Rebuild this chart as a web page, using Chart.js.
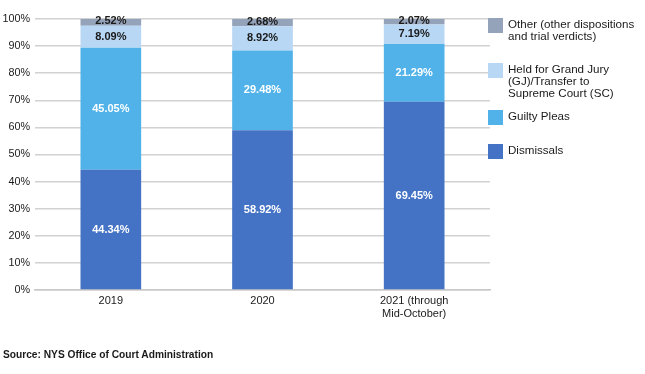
<!DOCTYPE html>
<html>
<head>
<meta charset="utf-8">
<script src="https://cdn.jsdelivr.net/npm/chart.js@4"></script>
<style>
  body { margin: 0; background: #fff; font-family: "Liberation Sans", Arial, sans-serif; }
  #wrap { position: relative; width: 645px; height: 374px; }
  #legend { position: absolute; left: 488px; top: 0; width: 160px; font-size: 11.6px; color: #1a1a1a; }
  .item { position: absolute; left: 0; display: flex; align-items: flex-start; white-space: nowrap; }
  .sw { width: 15px; height: 15px; margin-right: 5px; flex: none; }
  .item span { line-height: 12px; }
  #source { position: absolute; left: 3px; top: 349px; font-size: 10.2px; font-weight: bold; color: #1a1a1a; }
</style>
</head>
<body>
<div id="wrap">
  <canvas id="dispChart" width="645" height="374"></canvas>
  <div id="legend"></div>
  <div id="source">Source: NYS Office of Court Administration</div>
</div>
<script>
// data
const years = [["2019"], ["2020"], ["2021 (through", "Mid-October)"]]
const dismissals = [44.34, 58.92, 69.45]
const guiltyPleas = [45.05, 29.48, 21.29]
const heldForGJ = [8.09, 8.92, 7.19]
const other = [2.52, 2.68, 2.07]
const yTicks = [0, 10, 20, 30, 40, 50, 60, 70, 80, 90, 100]

const seriesNames = [
  "Dismissals",
  "Guilty Pleas",
  "Held for Grand Jury (GJ)/Transfer to Supreme Court (SC)",
  "Other (other dispositions and trial verdicts)",
]
const colors = ["#4472C4", "#50B2E8", "#B7D7F4", "#95A3BA"]
const labelColors = ["#ffffff", "#ffffff", "#1a1a1a", "#1a1a1a"]

// legend (top to bottom, reversed order)
const legendItems = [
  { idx: 3, lines: ["Other (other dispositions", "and trial verdicts)"], top: 18 },
  { idx: 2, lines: ["Held for Grand Jury", "(GJ)/Transfer to", "Supreme Court (SC)"], top: 63 },
  { idx: 1, lines: ["Guilty Pleas"], top: 110 },
  { idx: 0, lines: ["Dismissals"], top: 144 },
]
const legendEl = document.getElementById("legend")
legendItems.forEach((it) => {
  const d = document.createElement("div")
  d.className = "item"
  d.style.top = it.top + "px"
  d.innerHTML =
    '<div class="sw" style="background:' + colors[it.idx] + '"></div><span>' + it.lines.join("<br>") + "</span>"
  legendEl.appendChild(d)
})

// draws the value labels in each segment
const segmentLabels = {
  id: "segmentLabels",
  afterDatasetsDraw(chart) {
    const c = chart.ctx
    c.save()
    c.font = "bold 11px 'Liberation Sans', Arial, sans-serif"
    c.textAlign = "center"
    c.textBaseline = "middle"
    chart.data.datasets.forEach((ds, i) => {
      const meta = chart.getDatasetMeta(i)
      meta.data.forEach((bar, j) => {
        const y = (bar.y + bar.base) / 2 - (i === 3 ? 1 : 0)
        c.fillStyle = labelColors[i]
        c.fillText(ds.data[j].toFixed(2) + "%", bar.x, y)
      })
    })
    c.restore()
  },
}

const ctx = document.getElementById("dispChart")
new Chart(ctx, {
  type: "bar",
  data: {
    labels: years,
    datasets: [dismissals, guiltyPleas, heldForGJ, other].map((d, i) => ({
      label: seriesNames[i],
      data: d,
      backgroundColor: colors[i],
      borderWidth: 0,
      barPercentage: 0.4,
      categoryPercentage: 1,
    })),
  },
  options: {
    responsive: false,
    animation: false,
    layout: { padding: { top: 19, right: 155, left: 0, bottom: 0 } },
    plugins: {
      legend: { display: false },
      tooltip: { enabled: false },
    },
    scales: {
      x: {
        stacked: true,
        grid: { display: false },
        border: { color: "#c8c8c8", width: 1.5 },
        ticks: {
          color: "#1a1a1a",
          font: { family: "'Liberation Sans', Arial, sans-serif", size: 11, lineHeight: 1.15 },
          padding: -3,
          maxRotation: 0,
        },
        afterFit: (axis) => {
          axis.height = 84
        },
      },
      y: {
        stacked: true,
        min: 0,
        max: 100,
        afterBuildTicks: (axis) => {
          axis.ticks = yTicks.map((v) => ({ value: v }))
        },
        grid: { color: "#d2d2d2", lineWidth: 1.5, drawTicks: false },
        border: { display: false },
        ticks: {
          color: "#1a1a1a",
          font: { family: "'Liberation Sans', Arial, sans-serif", size: 10.8 },
          padding: 5,
          callback: (v) => v + "%",
        },
        afterFit: (axis) => {
          axis.width = 35
        },
      },
    },
  },
  plugins: [segmentLabels],
})
</script>
</body>
</html>
